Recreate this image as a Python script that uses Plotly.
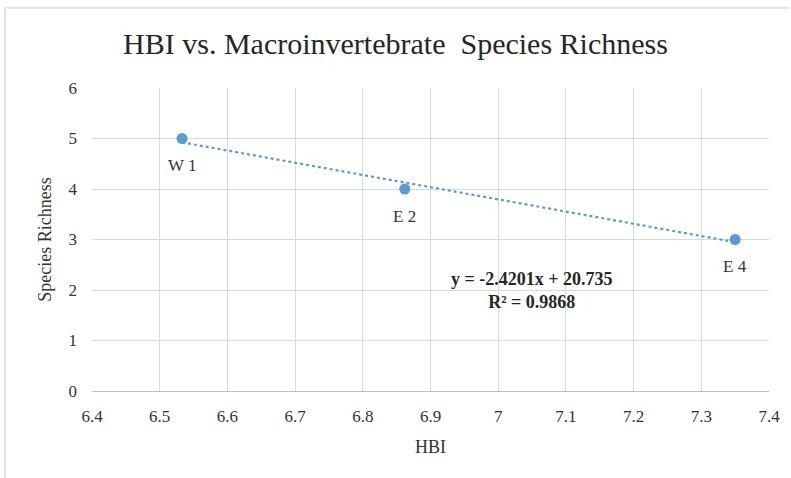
import plotly.graph_objects as go
import numpy as np

hbi = [6.533, 6.862, 7.35]
richness = [5, 4, 3]
site_labels = ["W 1", "E 2", "E 4"]
x_ticks = [6.4, 6.5, 6.6, 6.7, 6.8, 6.9, 7.0, 7.1, 7.2, 7.3, 7.4]
x_tick_text = ["6.4", "6.5", "6.6", "6.7", "6.8", "6.9", "7", "7.1", "7.2", "7.3", "7.4"]
y_ticks = [0, 1, 2, 3, 4, 5, 6]
equation_text = "<b>y = -2.4201x + 20.735<br>R² = 0.9868</b>"

serif = "Liberation Serif, Times New Roman, serif"
blue = "#5B9BD5"
txt = "#333333"

slope, intercept = np.polyfit(hbi, richness, 1)
tx = [min(hbi), max(hbi)]
ty = [slope * v + intercept for v in tx]

fig = go.Figure()
fig.add_trace(go.Scatter(x=tx, y=ty, mode="lines",
                         line=dict(color=blue, width=2.2, dash="dot"),
                         hoverinfo="skip", showlegend=False))
fig.add_trace(go.Scatter(x=hbi, y=richness, mode="markers",
                         marker=dict(color=blue, size=11),
                         showlegend=False))

for xv, yv, lab in zip(hbi, richness, site_labels):
    fig.add_annotation(x=xv, y=yv, xref="x", yref="y", text=lab, showarrow=False,
                       yshift=-27, font=dict(family=serif, size=17, color=txt))

fig.add_annotation(x=7.05, y=2.0, xref="x", yref="y", text=equation_text,
                   showarrow=False, align="center",
                   font=dict(family=serif, size=18, color="#262626"))

fig.update_layout(
    width=791, height=478,
    margin=dict(l=92, r=22, t=88, b=87),
    paper_bgcolor="white", plot_bgcolor="white",
    title=dict(text="HBI vs. Macroinvertebrate  Species Richness",
               x=0.5, xanchor="center", y=0.91, yanchor="middle",
               font=dict(family=serif, size=30, color="#262626")),
    font=dict(family=serif, size=17, color=txt),
    xaxis=dict(range=[6.4, 7.4], tickvals=x_ticks, ticktext=x_tick_text,
               showgrid=True, gridcolor="#D9D9D9", gridwidth=1,
               showline=True, linecolor="#BFBFBF", linewidth=1,
               zeroline=False, ticks="", ticklabelstandoff=10,
               title=dict(text="HBI", font=dict(family=serif, size=18, color=txt), standoff=14),
               tickfont=dict(family=serif, size=17, color=txt)),
    yaxis=dict(range=[0, 6], tickvals=y_ticks,
               showgrid=True, gridcolor="#D9D9D9", gridwidth=1,
               showline=False, zeroline=False, ticks="", ticklabelstandoff=14,
               title=dict(text="Species Richness", font=dict(family=serif, size=18, color=txt), standoff=12),
               tickfont=dict(family=serif, size=17, color=txt)),
    shapes=[
        dict(type="line", xref="paper", yref="paper", x0=-0.1285, x1=1.03, y0=1.265, y1=1.265,
             line=dict(color="#E3E3E3", width=2)),
        dict(type="line", xref="paper", yref="paper", x0=-0.1285, x1=-0.1285, y0=1.265, y1=-0.3,
             line=dict(color="#E3E3E3", width=2)),
    ],
)

fig.write_html("out.html")
